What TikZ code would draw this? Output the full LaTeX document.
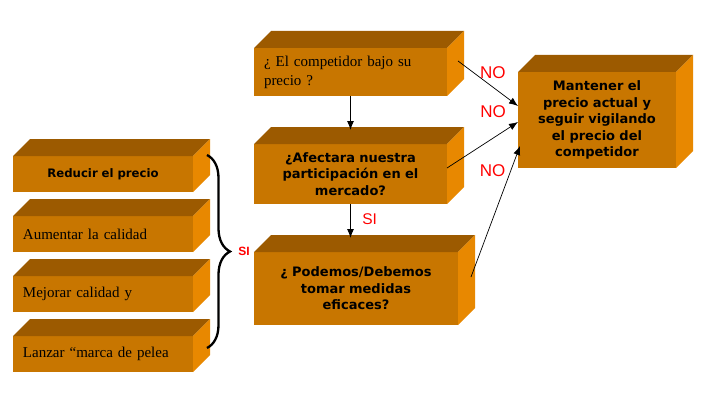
\documentclass[tikz,border=0pt]{standalone}
\usepackage{fontspec}
\setmainfont{Liberation Serif}
\newfontfamily\boxsans{DejaVu Sans}
\newfontfamily\labelsans{Liberation Sans}
\usetikzlibrary{positioning, arrows.meta, decorations.pathreplacing}
\definecolor{frontc}{RGB}{200,118,0}
\definecolor{topc}{RGB}{156,90,0}
\definecolor{sidec}{RGB}{232,136,0}
\tikzset{
    x=1pt, y=1pt, % one unit per pixel of the sketch
    >={Latex[length=9pt,width=7pt]}, % filled arrow heads
    box/.style={fill=frontc, inner xsep=10pt, inner ysep=0pt, outer sep=0pt}, % front face of a block
    serif/.style={font=\fontsize{15}{19}\selectfont, align=left},
    heavy/.style={font=\boxsans\bfseries\fontsize{13}{16.5}\selectfont, align=center},
    answer/.style={text=red, font=\labelsans\fontsize{17}{17}\selectfont},
    link/.style={->, line width=0.7pt},
}
\newcommand{\slab}[1]{% top and side faces of block #1
    \fill[topc] (#1.north west) -- ++(17,17) -- ([shift={(17,17)}]#1.north east) -- (#1.north east) -- cycle;
    \fill[sidec] (#1.north east) -- ++(17,17) -- ([shift={(17,17)}]#1.south east) -- (#1.south east) -- cycle;
}
\begin{document}
\begin{tikzpicture}
    \useasboundingbox (0,0) rectangle (705,400);
    % left column
    \node[box, heavy, font=\boxsans\bfseries\fontsize{11.7}{14}\selectfont, text width=160pt, minimum height=36pt] (r1) at (103,226) {Reducir el precio};
    \node[box, serif, text width=160pt, minimum height=36pt, below=24pt of r1] (r2) {Aumentar la calidad};
    \node[box, serif, text width=160pt, minimum height=36pt, below=24pt of r2] (r3) {Mejorar calidad y};
    \node[box, serif, text width=160pt, minimum height=36pt, below=24pt of r3] (r4) {Lanzar “marca de pelea};
    % middle column
    \node[box, serif, text width=173pt, minimum height=48pt] (q1) at (350.5,328) {¿ El competidor bajo su\\precio ?};
    \node[box, heavy, text width=173pt, minimum height=60pt, below=48pt of q1] (q2) {¿Afectara nuestra\\participación en el\\mercado?};
    \node[box, heavy, text width=184pt, minimum height=73pt, below=48pt of q2.south west, anchor=north west] (q3) {¿ Podemos/Debemos\\tomar medidas\\eficaces?};
    % right block
    \node[box, heavy, text width=138pt, minimum height=96pt] (m) at (597,280) {Mantener el\\precio actual y\\seguir vigilando\\el precio del\\competidor};
    \foreach \blk in {r1,r2,r3,r4,q1,q2,q3,m} {\slab{\blk}}
    % brace and connectors
    \draw[decorate, decoration={brace, amplitude=23pt}, line width=2.3pt] (207,245) -- (207,52)
        node[midway, right=27pt, text=red, font=\labelsans\bfseries\fontsize{12}{12}\selectfont] (si) {SI};
    \path (q2.south |- q3.north) ++(0,14) coordinate (q3in);
    \draw[link, line width=1pt] (q1) -- ([yshift=14pt]q2.north);
    \draw[link, line width=1pt] (q2) -- (q3in) node[pos=0.45, right=8pt, answer, font=\labelsans\fontsize{15.5}{16}\selectfont] {SI};
    \draw[link] ([shift={(11,11)}]q1.east) -- ([yshift=14pt]m.west) node[pos=0.58, yshift=14pt, answer] {NO};
    \draw[link] ([yshift=6pt]q2.east) -- ([yshift=-2pt]m.west) node[pos=0.65, yshift=26pt, answer] {NO};
    \draw[link] ([shift={(13,11.5)}]q3.east) -- ([shift={(2,-26)}]m.west) node[pos=0.81, xshift=-18pt, answer] {NO};
\end{tikzpicture}
\end{document}
